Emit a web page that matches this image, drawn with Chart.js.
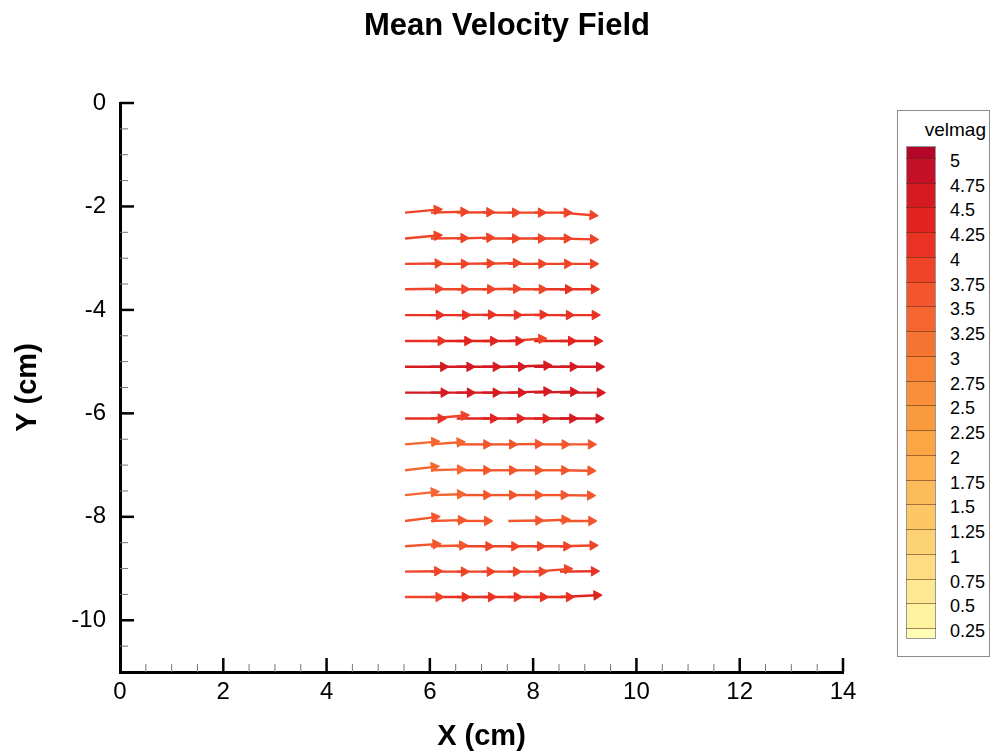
<!DOCTYPE html>
<html><head><meta charset="utf-8">
<script src="https://cdn.jsdelivr.net/npm/chart.js@4/dist/chart.umd.min.js"></script>
<style>
html,body{margin:0;padding:0;background:#fff;}
#wrap{position:relative;width:997px;height:754px;overflow:hidden;}
#c{position:absolute;left:0;top:0;}
#title{position:absolute;left:307px;width:400px;top:6px;line-height:38px;text-align:center;font-family:"Liberation Sans",Arial,sans-serif;font-weight:bold;font-size:31px;color:#000;}
#legend{position:absolute;left:897px;top:110px;width:93px;height:547px;border:1px solid #8c8c8c;box-sizing:border-box;font-family:"Liberation Sans",Arial,sans-serif;color:#000;background:#fff;}
#legend .ttl{position:absolute;right:3px;top:8px;font-size:19px;}
#legend .sw{position:absolute;left:8px;width:30px;box-sizing:border-box;border-left:1px solid #999;border-right:1px solid #999;}
#legend .ln{position:absolute;left:8px;width:30px;height:1px;background:rgba(90,40,20,0.55);}
#legend .lb{position:absolute;left:52px;font-size:18px;line-height:19px;}
</style></head>
<body><div id="wrap"><canvas id="c" width="997" height="754"></canvas><div id="title">Mean Velocity Field</div><div id="legend"></div></div>
<script>
// grid positions (cm)
const xGrid = [5.52, 6.02, 6.52, 7.02, 7.52, 8.02, 8.52];
const yGrid = [-2.12, -2.62, -3.11, -3.60, -4.10, -4.60, -5.10, -5.60, -6.10, -6.60, -7.10, -7.58, -8.08, -8.57, -9.06, -9.55];
// horizontal velocity component per row (null = no vector)
const uRows = [
  [3.75, 3.85, 3.85, 3.85, 3.85, 3.85, 3.85],
  [3.75, 3.85, 3.85, 3.85, 3.85, 3.85, 3.9],
  [3.85, 3.9, 3.9, 3.95, 3.9, 3.9, 3.9],
  [3.9, 3.95, 3.95, 3.95, 3.95, 4.0, 4.0],
  [4.0, 4.05, 4.05, 4.05, 4.05, 4.1, 4.1],
  [4.2, 4.3, 4.3, 4.25, 3.9, 4.35, 4.4],
  [4.5, 4.55, 4.6, 4.55, 4.5, 4.55, 4.6],
  [4.55, 4.6, 4.6, 4.55, 4.5, 4.6, 4.7],
  [4.2, 3.9, 4.3, 4.4, 4.4, 4.5, 4.55],
  [3.45, 3.4, 3.5, 3.5, 3.5, 3.6, 3.65],
  [3.4, 3.45, 3.5, 3.5, 3.5, 3.55, 3.6],
  [3.4, 3.45, 3.5, 3.5, 3.5, 3.5, 3.55],
  [3.5, 3.55, 3.6, null, 3.55, 3.6, 3.7],
  [3.6, 3.7, 3.75, 3.75, 3.75, 3.8, 3.85],
  [3.8, 3.9, 3.9, 3.95, 3.95, 3.9, 4.0],
  [3.95, 4.0, 4.05, 4.05, 4.1, 4.1, 4.3]
];
// vertical velocity component per row
const vRows = [
  [0.35, 0.1, 0.05, 0, 0, 0, -0.3],
  [0.35, 0.05, 0.1, 0, 0, 0, -0.1],
  [0.05, 0, 0.05, 0.1, 0, 0, 0],
  [0.05, 0, 0, 0.05, 0, 0, 0],
  [0, 0, 0.05, 0, 0.05, 0, 0],
  [0, 0, 0, 0, 0.25, 0, 0],
  [0, 0, 0, 0, 0.15, 0, 0],
  [0, 0, 0, 0, 0.15, 0.1, 0],
  [0, 0.35, 0, 0, 0, 0, 0],
  [0.3, 0.25, 0, 0, 0.05, 0, 0],
  [0.4, 0.1, 0, 0, 0, 0, -0.05],
  [0.35, 0.1, 0, 0, 0, 0, -0.05],
  [0.45, 0.1, 0, null, 0.05, 0.15, 0],
  [0.25, 0.1, 0, 0, 0, 0, 0.1],
  [0.05, 0, 0, 0, 0, 0.3, 0.05],
  [0, 0, 0, 0, 0, 0, 0.2]
];
// colour legend levels and band colours (band i = below levels[i]; last = above 5)
const levels = [0.25, 0.5, 0.75, 1, 1.25, 1.5, 1.75, 2, 2.25, 2.5, 2.75, 3, 3.25, 3.5, 3.75, 4, 4.25, 4.5, 4.75, 5];
const levelLabels = ["0.25","0.5","0.75","1","1.25","1.5","1.75","2","2.25","2.5","2.75","3","3.25","3.5","3.75","4","4.25","4.5","4.75","5"];
const bandColors = ["#fffdb4","#fff3a0","#fee891","#fedd82","#fdd274","#fdc766","#fcbc59","#fcb04e","#fba545","#fa9a3f","#f98f3a","#f88236","#f67432","#f5652f","#f3552c","#ef4428","#e93223","#e1241f","#d51a21","#c50f26","#b40628"];
const vecScale = 0.165; // cm of arrow per velocity unit

function colorFor(m){ let i = 0; while(i < levels.length && m >= levels[i]) i++; return bandColors[i]; }

const datasets = [];
yGrid.forEach((yy, r) => {
  xGrid.forEach((xx, c) => {
    const u = uRows[r][c], v = vRows[r][c];
    if (u === null) return;
    const mag = Math.sqrt(u*u + v*v);
    const col = colorFor(mag);
    const ang = Math.atan2(v, u) * 180 / Math.PI;
    datasets.push({
      data: [{x: xx, y: yy}, {x: xx + u*vecScale, y: yy + v*vecScale}],
      showLine: true, borderColor: col, borderWidth: 2.4,
      pointRadius: [0, 5.5], pointStyle: 'triangle', pointRotation: [0, 90 - ang],
      pointBackgroundColor: col, pointBorderColor: col, pointBorderWidth: 1
    });
  });
});

const FONT = "'Liberation Sans', Arial, sans-serif";
const inTicks = {
  id: 'inTicks',
  afterDraw(chart){
    const {ctx, chartArea: a, scales: {x, y}} = chart;
    ctx.save();
    x.ticks.forEach(t => {
      if (t.value <= 0) return;
      const px = x.getPixelForValue(t.value);
      const major = t.value % 2 === 0;
      ctx.beginPath(); ctx.strokeStyle = major ? '#000' : '#777'; ctx.lineWidth = major ? 2.5 : 1;
      ctx.moveTo(px, a.bottom); ctx.lineTo(px, a.bottom - (major ? 14 : 8)); ctx.stroke();
    });
    y.ticks.forEach(t => {
      if (t.value <= -11) return;
      const py = y.getPixelForValue(t.value);
      const major = t.value % 2 === 0;
      ctx.beginPath(); ctx.strokeStyle = major ? '#000' : '#777'; ctx.lineWidth = major ? 2.5 : 1;
      ctx.moveTo(a.left, py); ctx.lineTo(a.left + (major ? 14 : 8), py); ctx.stroke();
    });
    ctx.restore();
  }
};

new Chart(document.getElementById('c'), {
  type: 'scatter',
  data: { datasets },
  options: {
    responsive: false, animation: false, events: [],
    layout: { padding: { left: 0, right: 154, top: 103, bottom: 0 } },
    plugins: { legend: { display: false }, tooltip: { enabled: false }, title: { display: false } },
    scales: {
      x: {
        type: 'linear', min: 0, max: 14,
        afterFit: s => { s.height = 82; },
        grid: { display: true, drawOnChartArea: false, drawTicks: false },
        border: { display: true, color: '#000', width: 3 },
        ticks: { stepSize: 0.5, autoSkip: false, maxRotation: 0, padding: 6, color: '#000',
          font: { family: FONT, size: 24 },
          callback: v => (v % 2 === 0 ? String(v) : '') },
        title: { display: true, text: 'X (cm)', color: '#000', font: { family: FONT, size: 29, weight: 'bold' }, padding: { top: 4, bottom: 0 } }
      },
      y: {
        type: 'linear', min: -11, max: 0,
        afterFit: s => { s.width = 120; },
        grid: { display: true, drawOnChartArea: false, drawTicks: false },
        border: { display: true, color: '#000', width: 3 },
        ticks: { stepSize: 0.5, autoSkip: false, padding: 14, color: '#000',
          font: { family: FONT, size: 24 },
          callback: v => (v % 2 === 0 ? String(v) : '') },
        title: { display: true, text: 'Y (cm)', color: '#000', font: { family: FONT, size: 29, weight: 'bold' }, padding: { top: 11, bottom: 0 } }
      }
    }
  },
  plugins: [inTicks]
});

// colour bar legend
(function(){
  const lg = document.getElementById('legend');
  const t = document.createElement('div'); t.className = 'ttl'; t.textContent = 'velmag'; lg.appendChild(t);
  const top = 35, bot = 528, first = 47, step = 24.74; // px inside box
  const bY = i => first + (levels.length - 1 - i) * step;
  for (let b = 0; b <= levels.length; b++) {
    const y1 = b === levels.length ? top : bY(b);
    const y0 = b === 0 ? bot : bY(b - 1);
    const d = document.createElement('div'); d.className = 'sw';
    d.style.top = y1 + 'px'; d.style.height = (y0 - y1) + 'px'; d.style.background = bandColors[b];
    if (b === levels.length) d.style.borderTop = '1px solid #999';
    if (b === 0) d.style.borderBottom = '1px solid #999';
    lg.appendChild(d);
  }
  levels.forEach((lv, i) => {
    const l = document.createElement('div'); l.className = 'ln'; l.style.top = bY(i) + 'px'; lg.appendChild(l);
    const s = document.createElement('div'); s.className = 'lb'; s.textContent = levelLabels[i];
    s.style.top = (bY(i) - 6) + 'px'; lg.appendChild(s);
  });
})();
</script>
</body></html>
